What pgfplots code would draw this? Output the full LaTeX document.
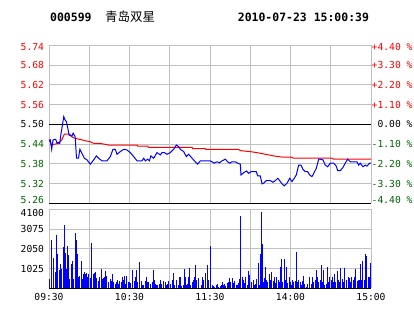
\documentclass[border=0pt]{standalone}
\usepackage{fontspec}
\usepackage{pgfplots}
\usepackage{pgfplotstable}
\pgfplotsset{compat=1.18}
\setmonofont{DejaVu Sans Mono}
\newfontfamily\cjk{Noto Sans CJK SC}
\definecolor{dkgreen}{RGB}{0,100,0}
\definecolor{gridgray}{RGB}{192,192,192}
\newcommand{\up}[2]{\raisebox{#1}[\height][\depth]{#2}}

\pgfplotstableread{
m p
0 5.448
1 5.452
2 5.424
3 5.452
4 5.454
5 5.454
6 5.443
7 5.445
8 5.442
9 5.473
10 5.498
11 5.523
12 5.513
13 5.508
14 5.488
15 5.467
17 5.464
18 5.473
19.5 5.462
20.5 5.397
22 5.397
23 5.424
24.5 5.412
26.3 5.397
28.3 5.392
30.8 5.379
33.3 5.392
35.3 5.404
37 5.397
39.5 5.389
43.2 5.389
45.7 5.402
47.7 5.424
49.4 5.424
50.7 5.409
53.1 5.417
55.7 5.424
58.1 5.422
60.6 5.414
63.1 5.402
65.6 5.389
69.3 5.389
70.6 5.397
71.8 5.389
73.6 5.394
74.8 5.389
76 5.404
78 5.397
80.5 5.414
83 5.407
84.2 5.414
85.9 5.414
87.9 5.409
90.4 5.414
92.9 5.424
94.9 5.437
96.7 5.432
97.9 5.424
100.4 5.417
102.3 5.402
104.1 5.409
106.6 5.397
109 5.386
110.8 5.379
112.8 5.389
115.3 5.389
120.2 5.389
121.5 5.386
123.2 5.382
125.2 5.386
127.2 5.383
128.9 5.389
131.4 5.394
133.2 5.386
134.7 5.382
136.4 5.386
138.9 5.386
140.6 5.382
142.6 5.379
143.1 5.346
145.1 5.353
147.1 5.358
148.8 5.351
150.6 5.356
154.5 5.356
155.6 5.343
157.5 5.343
158.8 5.319
160 5.321
162 5.329
164.9 5.329
167 5.324
168.7 5.329
170.5 5.336
171.9 5.329
173.7 5.319
175.4 5.313
177.4 5.321
179.4 5.336
181.1 5.326
182.8 5.336
184.3 5.346
186.1 5.376
187.8 5.376
189.3 5.363
191 5.356
192.8 5.356
194.3 5.346
196 5.341
197.3 5.351
199.2 5.366
201 5.394
202.2 5.394
204.2 5.392
205.9 5.376
207.7 5.371
209.7 5.382
212.2 5.382
214.1 5.373
215.2 5.359
217.1 5.359
219.1 5.369
220.8 5.382
222.6 5.394
224.6 5.386
227.1 5.386
229.6 5.386
230.8 5.376
232 5.382
234 5.371
235.7 5.376
237 5.373
239 5.382
240 5.382
}\pricetable

\pgfplotstableread{
m p
0.5 5.454
1.5 5.439
3.5 5.439
7.2 5.442
9.7 5.454
11.4 5.470
15.4 5.470
17.1 5.462
19.6 5.457
23.3 5.454
27.1 5.450
30.8 5.447
33.3 5.442
38.2 5.442
44.5 5.437
65.6 5.437
66.1 5.434
73.6 5.434
74 5.430
106.6 5.430
107.1 5.426
116.5 5.426
117 5.424
141.4 5.424
142.6 5.420
150 5.417
155 5.414
161.2 5.409
167.5 5.404
174.4 5.400
180.4 5.400
182.4 5.397
210.9 5.397
212.2 5.394
240 5.394
}\avgtable

\pgfplotstableread{
m v
0.7 484
1.7 2509
3.2 1557
4.5 865
5.5 2768
6.2 1782
7.7 952
8.4 1263
9.2 1003
10.7 2128
11.4 3287
12.2 1817
12.9 986
13.9 2197
14.7 1730
15.2 484
16.6 1263
17.6 1419
18.4 484
19.9 2855
20.4 2509
21.1 1782
22.1 606
22.9 640
23.9 1436
24.6 484
25.6 727
26.3 865
27.1 744
28.1 813
28.8 606
29.6 744
30.6 554
32.0 2336
32.8 744
33.8 813
34.8 865
35.5 519
37.0 398
38.0 571
38.8 986
39.8 484
40.5 519
41.5 571
42.2 900
43.0 640
44.0 294
44.7 311
45.7 484
46.5 381
47.5 744
48.2 311
49.2 225
50.4 346
51.2 433
51.9 208
52.9 381
53.9 346
54.7 571
55.4 433
56.1 640
56.9 208
58.1 640
58.9 346
59.9 346
60.9 260
61.9 433
62.6 952
63.6 398
64.3 571
65.3 952
66.1 346
67.1 1384
67.8 571
68.8 398
69.8 173
70.8 173
71.6 398
72.5 571
73.3 311
74.3 346
75.3 225
76.0 225
76.8 346
77.8 952
78.8 433
79.5 225
80.2 173
81.2 173
82.2 225
83.0 433
84.0 225
85.0 121
85.7 398
86.5 346
87.5 173
88.4 225
89.2 398
90.2 225
90.9 138
91.9 433
92.7 813
93.7 173
94.7 346
95.4 433
96.4 173
97.1 571
98.1 571
98.9 138
99.9 173
100.9 986
101.6 571
102.6 173
103.4 225
104.1 571
104.8 1038
105.8 173
106.8 346
107.6 433
108.6 571
109.3 1211
110.1 433
111.1 346
111.8 519
113.3 173
114.3 571
115.3 433
116.3 813
117.0 433
118.0 1211
119.0 433
120.0 121
120.7 2197
121.7 173
122.7 121
123.7 87
124.5 173
125.5 225
126.5 52
127.5 121
128.2 173
129.2 346
130.2 173
130.9 225
131.9 121
132.9 260
133.9 346
134.9 519
135.6 346
136.6 519
137.6 260
138.4 398
139.4 173
140.4 173
141.1 260
142.1 467
143.1 3754
143.9 571
144.8 433
145.8 260
146.8 571
147.6 173
148.6 900
149.6 692
150.6 173
151.3 346
152.3 433
153.0 173
154.0 225
155.0 467
156.0 1298
156.8 173
157.8 1782
158.3 3979
158.8 2301
159.8 346
160.5 519
161.5 1090
162.2 433
163.2 346
164.2 744
165.2 433
166.0 865
167.0 398
168.0 571
168.9 260
169.7 606
170.7 433
171.7 346
172.7 1090
173.4 1505
174.4 346
175.2 1505
176.1 433
177.1 1125
178.1 260
178.9 606
179.9 346
180.9 173
181.6 433
182.6 346
183.6 398
184.3 1868
185.3 346
186.3 433
187.1 346
188.1 173
189.1 398
190.0 640
190.8 225
191.8 87
192.8 225
193.8 606
194.5 346
195.5 225
196.5 571
197.3 346
198.3 433
199.3 952
200.0 571
201.0 346
202.0 433
203.0 1211
203.7 346
204.7 952
205.7 173
206.7 225
207.5 1090
208.4 346
209.4 571
210.2 433
211.2 606
212.2 346
212.9 744
213.9 346
214.9 917
215.7 433
216.6 346
217.6 1038
218.6 467
219.4 346
220.4 1038
221.4 433
222.1 225
223.1 571
224.1 519
224.8 346
225.8 571
226.8 433
227.6 571
228.6 986
229.6 398
230.6 433
231.3 433
232.3 1263
233.0 433
234.0 1436
235.0 433
235.8 1782
236.8 1678
237.8 571
238.8 606
239.5 1332
}\voltable

\begin{document}
\begin{tikzpicture}[x=1bp,y=1bp]
\path[use as bounding box] (0bp,0bp) rectangle (414bp,-314bp);

\node[anchor=west, inner sep=0, font=\ttfamily\bfseries\fontsize{11.5}{12}\selectfont] at (50bp,-17bp) {000599};
\node[anchor=west, inner sep=0, font=\cjk\fontsize{12.5}{13}\selectfont] at (105bp,-17bp) {青岛双星};
\node[anchor=west, inner sep=0, font=\ttfamily\bfseries\fontsize{11.5}{12}\selectfont] at (237.7bp,-17bp) {2010-07-23 15:00:39};

% price panel
\begin{axis}[
  at={(49bp,-45.3bp)}, anchor=north west,
  width=322bp, height=158bp, scale only axis,
  xmin=0, xmax=240, ymin=5.26, ymax=5.74,
  xtick={0,30,...,240}, xticklabels={},
  ytick={5.26,5.32,5.38,5.44,5.50,5.56,5.62,5.68,5.74},
  yticklabels={\up{3.5bp}{\textcolor{dkgreen}{5.26}},\textcolor{dkgreen}{5.32},\textcolor{dkgreen}{5.38},\textcolor{dkgreen}{5.44},5.50,\textcolor{red}{5.56},\textcolor{red}{5.62},\textcolor{red}{5.68},\up{-2bp}{\textcolor{red}{5.74}}},
  grid=major, grid style={gridgray, line width=1bp},
  axis lines*=left,
  x axis line style={black, line width=1bp, -},
  y axis line style={gridgray, line width=1bp, -},
  major tick length=0pt,
  tick label style={font=\ttfamily\fontsize{9.7}{10}\selectfont},
  yticklabel style={xshift=-1.5pt},
  clip=false,
]
\addplot[black, line width=1bp] coordinates {(0,5.50) (240,5.50)};
\addplot[red, line width=1bp] table[x=m, y=p] {\avgtable};
\addplot[blue, line width=1bp] table[x=m, y=p] {\pricetable};
\end{axis}

% percent labels on the right
\begin{axis}[
  at={(49bp,-45.3bp)}, anchor=north west,
  width=322bp, height=158bp, scale only axis,
  xmin=0, xmax=240, ymin=5.26, ymax=5.74,
  xtick=\empty,
  ytick={5.26,5.32,5.38,5.44,5.50,5.56,5.62,5.68,5.74},
  yticklabels={\up{3.5bp}{\textcolor{dkgreen}{-4.40 \%}},\textcolor{dkgreen}{-3.30 \%},\textcolor{dkgreen}{-2.20 \%},\textcolor{dkgreen}{-1.10 \%},\phantom{+}0.00 \%,\textcolor{red}{+1.10 \%},\textcolor{red}{+2.20 \%},\textcolor{red}{+3.30 \%},\up{-2bp}{\textcolor{red}{+4.40 \%}}},
  yticklabel pos=right,
  axis line style={draw=none},
  major tick length=0pt,
  tick label style={font=\ttfamily\fontsize{9.7}{10}\selectfont},
  yticklabel style={anchor=west, xshift=-2.8pt},
]
\end{axis}

% volume panel
\begin{axis}[
  at={(49bp,-209.3bp)}, anchor=north west,
  width=322bp, height=79bp, scale only axis,
  xmin=0, xmax=240, ymin=0, ymax=4100,
  xtick={0,30,...,240},
  xticklabels={09:30,,10:30,,11:30,,14:00,,15:00},
  ytick={0,1025,2050,3075,4100},
  yticklabels={,1025,2050,3075,\up{-3.5bp}{4100}},
  grid=major, grid style={gridgray, line width=1bp},
  axis lines*=left,
  x axis line style={black, line width=1bp, -},
  y axis line style={gridgray, line width=1bp, -},
  major tick length=0pt,
  tick label style={font=\ttfamily\fontsize{9.7}{10}\selectfont},
  yticklabel style={xshift=-1.5pt},
  xticklabel style={yshift=-2pt},
]
\addplot[ycomb, blue, line width=1bp] table[x=m, y=v] {\voltable};
\end{axis}
\end{tikzpicture}
\end{document}
